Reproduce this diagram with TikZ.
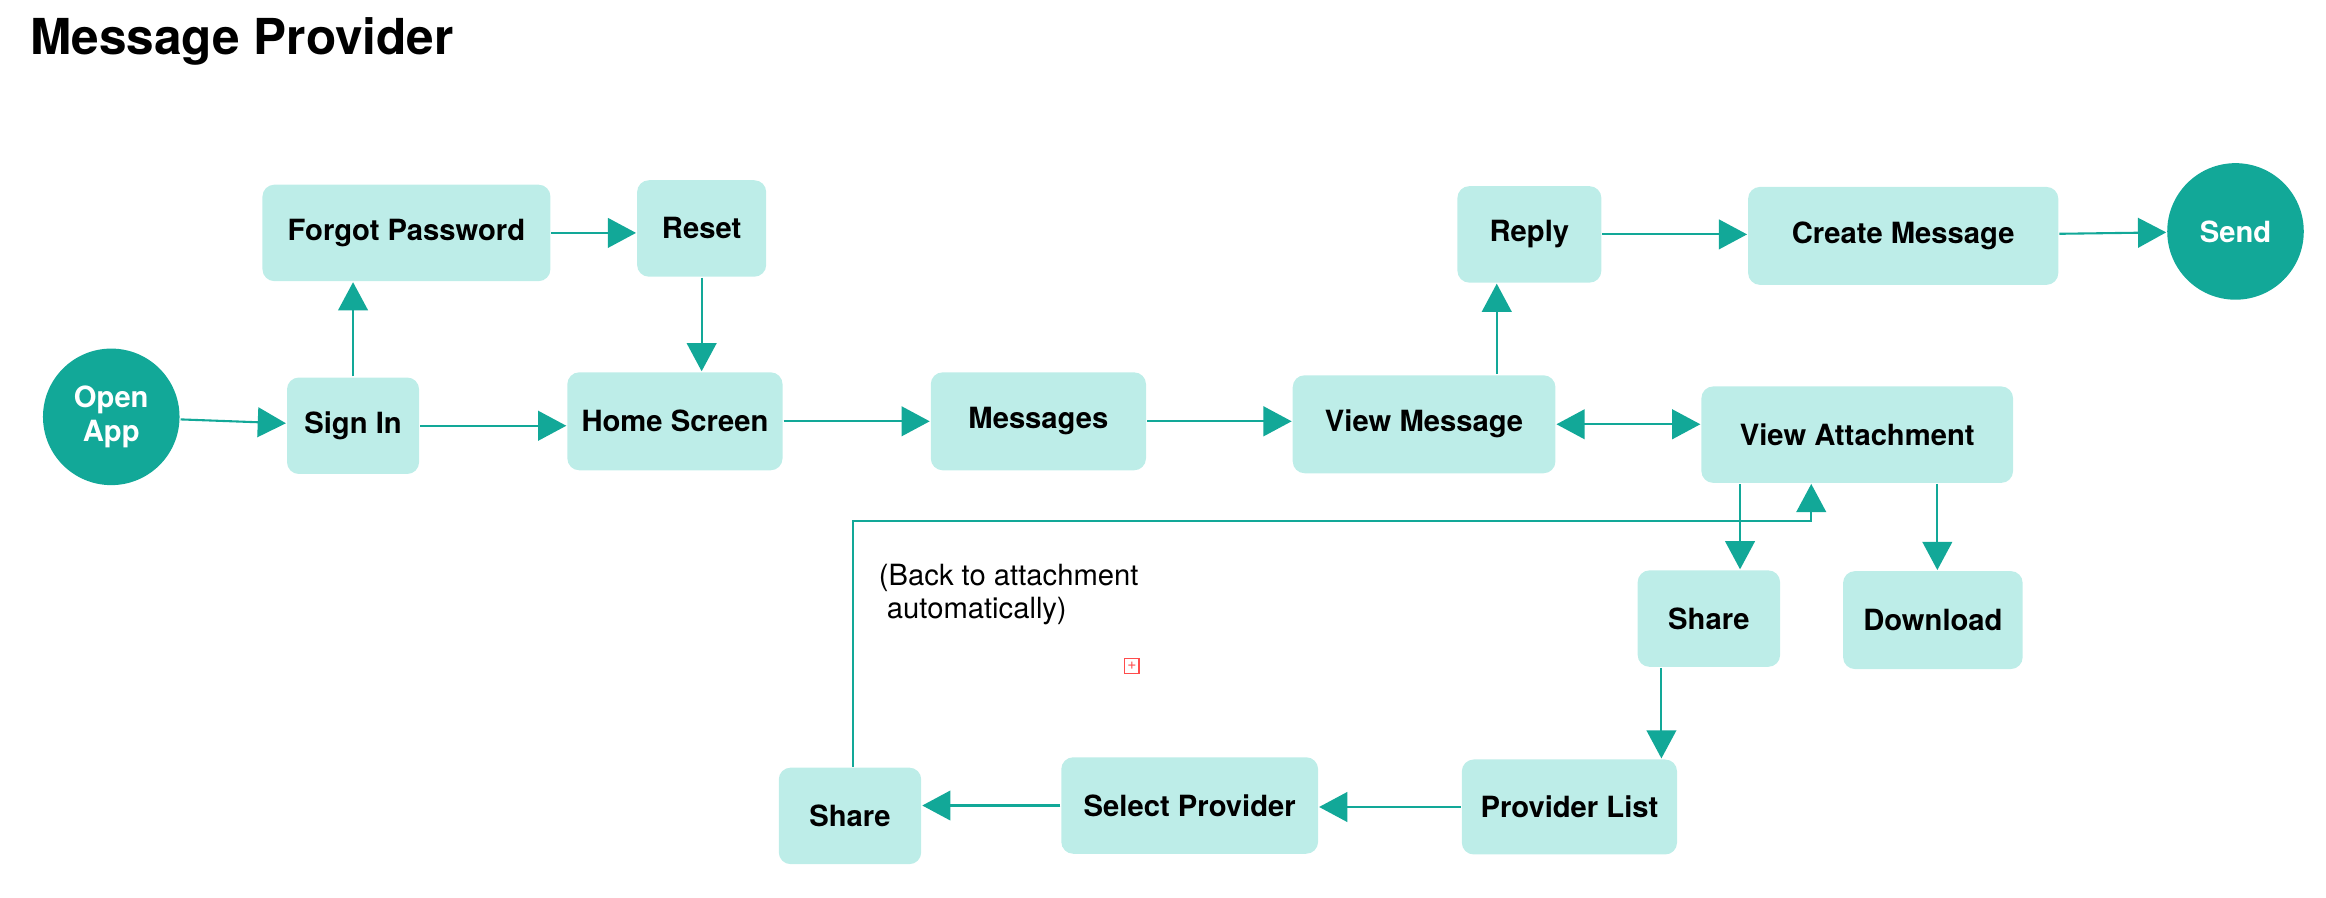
\documentclass[tikz,border=0pt]{standalone}
\usepackage{fontspec}
\setmainfont{TeX Gyre Heros}
\usetikzlibrary{arrows.meta, positioning}
\definecolor{teal1}{HTML}{12A898}
\definecolor{mint}{HTML}{BDEDE8}
\tikzset{
box/.style={fill=mint, rounded corners=0.08cm, inner sep=0pt, font=\fontsize{5.6}{6.6}\selectfont\bfseries}, % screen boxes
term/.style={circle, fill=teal1, text=white, minimum size=0.92cm, inner sep=0pt, align=center, font=\fontsize{5.6}{6.6}\selectfont\bfseries}, % start and end
flow/.style={draw=teal1, line width=0.4pt, -{Triangle[length=0.19cm, width=0.2cm]}}, % arrows
}
\begin{document}
\begin{tikzpicture}[x=0.01cm, y=-0.01cm]
    \useasboundingbox (0,0) rectangle (1568,605);
    \node[anchor=west, font=\fontsize{9.5}{11}\selectfont\bfseries] (title) at (8,28) {Message Provider};

    % Sign in part
    \node[term] (open) at (75,281) {Open\\App};
    \node[box, minimum width=0.89cm, minimum height=0.65cm] (signin) at (238,287) {Sign In};
    \node[box, minimum width=1.94cm, minimum height=0.65cm] (forgot) at (274,157) {Forgot Password};
    \node[box, minimum width=0.87cm, minimum height=0.65cm] (reset) at (473,154) {Reset};
    \node[box, minimum width=1.45cm, minimum height=0.66cm] (home) at (455,284) {Home Screen};
    \node[box, minimum width=1.45cm, minimum height=0.66cm] (msgs) at (700,284) {Messages};
    \node[box, minimum width=1.77cm, minimum height=0.66cm] (view) at (960,286) {View Message};

    % Reply part
    \node[box, minimum width=0.97cm, minimum height=0.65cm] (reply) at (1031,158) {Reply};
    \node[box, minimum width=2.09cm, minimum height=0.66cm] (create) at (1283,159) {Create Message};
    \node[term] (send) at (1507,156) {Send};

    % Attachment part
    \node[box, minimum width=2.10cm, minimum height=0.65cm] (attach) at (1252,293) {View Attachment};
    \node[box, minimum width=0.96cm, minimum height=0.65cm] (share) at (1152,417) {Share};
    \node[box, minimum width=1.21cm, minimum height=0.66cm] (down) at (1303,418) {Download};
    \node[box, minimum width=1.45cm, minimum height=0.64cm] (plist) at (1058,544) {Provider List};
    \node[box, minimum width=1.73cm, minimum height=0.65cm] (select) at (802,543) {Select Provider};
    \node[box, minimum width=0.96cm, minimum height=0.65cm] (share2) at (573,550) {Share};
    \node[anchor=north west, align=left, font=\fontsize{5.6}{6.3}\selectfont] (note) at (580,368) {(Back to attachment\\\ automatically)};
    \node[draw=red!70, inner sep=0pt, minimum size=0.1cm, line width=0.3pt, font=\fontsize{3}{3}\selectfont, text=red!70] (mark) at (763,449) {+};

    \draw[flow] (open) -- (signin);
    \draw[flow] (signin.north -| 238,0) -- (forgot.south -| 238,0);
    \draw[flow] (forgot) -- (reset.west |- forgot);
    \draw[flow] (reset) -- (home.north -| reset);
    \draw[flow] (signin) -- (home.west |- signin);
    \draw[flow] (home) -- (msgs);
    \draw[flow] (msgs) -- (view.west |- msgs);
    \draw[flow, {Triangle[length=0.19cm, width=0.2cm]}-{Triangle[length=0.19cm, width=0.2cm]}] (view.east) -- (attach.west |- view.east);
    \draw[flow] (view.north -| 1009,0) -- (reply.south -| 1009,0);
    \draw[flow] (reply) -- (create.west |- reply);
    \draw[flow] (create) -- (send);
    \draw[flow] (attach.south -| 1173,0) -- (share.north -| 1173,0);
    \draw[flow] (attach.south -| 1306,0) -- (down.north -| 1306,0);
    \draw[flow] (share.south -| 1120,0) -- (plist.north -| 1120,0);
    \draw[flow] (plist) -- (select.east |- plist);
    \draw[flow] (select) -- (share2.east |- select);
    \draw[flow] (share2.north -| 575,0) -- (575,351) -- (1221,351) -- (attach.south -| 1221,0);
\end{tikzpicture}
\end{document}
